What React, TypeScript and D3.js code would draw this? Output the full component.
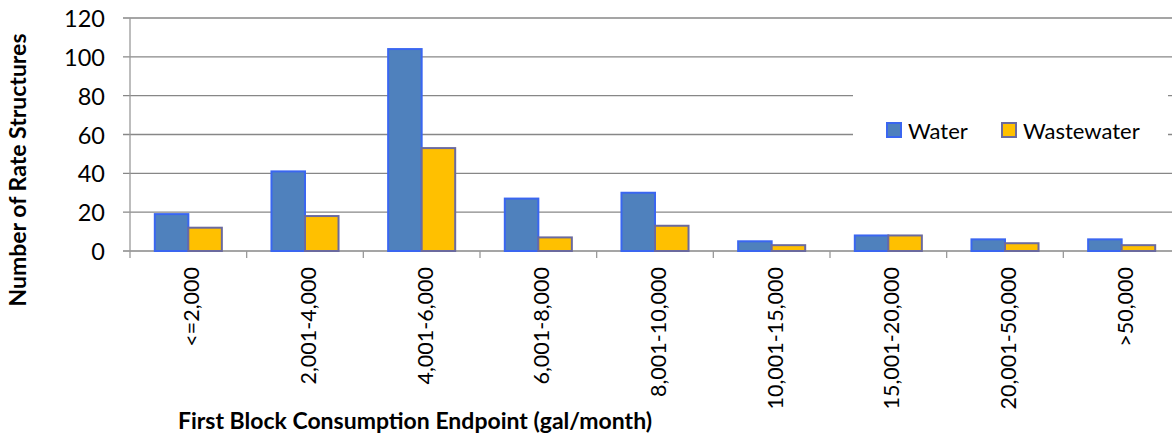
import React from "react";
import * as d3 from "d3";

const categories = ["<=2,000", "2,001-4,000", "4,001-6,000", "6,001-8,000", "8,001-10,000", "10,001-15,000", "15,001-20,000", "20,001-50,000", ">50,000"];
const waterValues = [19, 41, 104, 27, 30, 5, 8, 6, 6];
const wastewaterValues = [12, 18, 53, 7, 13, 3, 8, 4, 3];
const yTicks = [0, 20, 40, 60, 80, 100, 120];
const seriesNames = ["Water", "Wastewater"];

const W = 1172, H = 434;
const left = 130, right = 1180, top = 18, bottom = 251;
const FONT = "Lato, 'Open Sans', sans-serif";

export default function App() {
  const x = d3.scaleBand<string>().domain(categories).range([left, right]).paddingInner(0).paddingOuter(0);
  const inner = d3.scaleBand<string>().domain(seriesNames).range([0, x.bandwidth()]).paddingInner(0).paddingOuter(0.74);
  const y = d3.scaleLinear().domain([0, 120]).range([bottom, top]);
  const fills = ["#4F81BD", "#FFC000"];
  const strokes = ["#3A66F0", "#6B6A9E"];
  const series = [waterValues, wastewaterValues];

  return (
    <svg width={W} height={H} style={{ position: "absolute", left: 0, top: 0, background: "#fff" }} fontFamily={FONT}>
      {yTicks.map((t) => (
        <g key={t}>
          <line x1={left - 7} x2={W} y1={y(t)} y2={y(t)} stroke="#878787" strokeWidth={1.3} />
          <text x={105} y={y(t)} textAnchor="end" dominantBaseline="central" fontSize={23.5} fill="#000">{t}</text>
        </g>
      ))}
      <line x1={left} x2={left} y1={top} y2={bottom + 7} stroke="#9a9a9a" strokeWidth={1.3} />
      {categories.map((c, i) => (
        <line key={"t" + i} x1={(x(c) as number) + x.bandwidth()} x2={(x(c) as number) + x.bandwidth()} y1={bottom} y2={bottom + 7} stroke="#9a9a9a" strokeWidth={1.3} />
      ))}
      {series.map((vals, s) =>
        categories.map((c, i) => {
          const bx = (x(c) as number) + (inner(seriesNames[s]) as number);
          return (
            <rect key={s + "-" + i} x={bx} y={y(vals[i])} width={inner.bandwidth()} height={bottom - y(vals[i])}
              fill={fills[s]} stroke={strokes[s]} strokeWidth={2} />
          );
        })
      )}
      {categories.map((c, i) => (
        <text key={"l" + i} transform={`translate(${(x(c) as number) + x.bandwidth() / 2 + 3},267) rotate(-90)`}
          textAnchor="end" dominantBaseline="central" fontSize={21.5} fill="#000">{c}</text>
      ))}
      <rect x={853} y={80} width={315} height={80} fill="#fff" />
      {seriesNames.map((n, s) => {
        const lx = s === 0 ? 887 : 1002;
        return (
          <g key={"lg" + s}>
            <rect x={lx} y={123} width={14} height={14} fill={fills[s]} stroke={strokes[s]} strokeWidth={2} />
            <text x={lx + 21} y={130} dominantBaseline="central" fontSize={22} fill="#000">{n}</text>
          </g>
        );
      })}
      <text x={415} y={420} textAnchor="middle" dominantBaseline="central" fontSize={23} fontWeight="bold" fill="#000">First Block Consumption Endpoint (gal/month)</text>
      <text transform="translate(17,170) rotate(-90)" textAnchor="middle" dominantBaseline="central" fontSize={23} fontWeight="bold" fill="#000">Number of Rate Structures</text>
    </svg>
  );
}
